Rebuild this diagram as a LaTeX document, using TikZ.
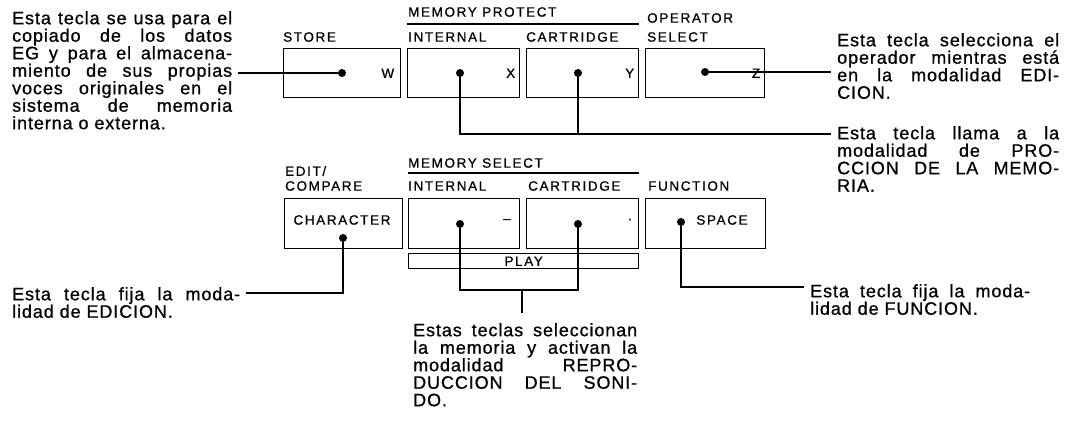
\documentclass[tikz,border=0pt]{standalone}
\usepackage{fontspec}
\setmainfont{Liberation Sans}[LetterSpace=5,FakeBold=0.8]
\newfontfamily\lblfont{Liberation Sans}[LetterSpace=12,FakeBold=0.8]

\begin{document}
\begin{tikzpicture}[x=1pt,y=-1pt,
  keybox/.style={draw,line width=1.4pt,anchor=north west,inner sep=0pt,minimum height=49pt},
  keydot/.style={circle,fill,inner sep=0pt,minimum size=8pt},
  leader/.style={line width=1.4pt},
  lbl/.style={font=\lblfont\fontsize{13.5}{15}\selectfont,anchor=west,inner sep=0pt},
  txt/.style={anchor=north west,text width=#1,align=justify,inner xsep=6pt,inner ysep=0pt,
    font=\fontsize{18}{17.5}\selectfont}]
  \useasboundingbox (0,0) rectangle (1069,422);

  \node[keybox,minimum width=117pt] (store) at (283,48) {};
  \node[keybox,minimum width=112pt] (pint) at (407,48) {};
  \node[keybox,minimum width=112pt] (pcart) at (526,48) {};
  \node[keybox,minimum width=119pt] (opsel) at (645,48) {};
  \node[lbl,anchor=east] (kw) at ([xshift=-7pt]store.east) {W};
  \node[lbl,anchor=east] (kx) at ([xshift=-5pt]pint.east) {X};
  \node[lbl,anchor=east] (ky) at ([xshift=-5pt]pcart.east) {Y};
  \node[lbl,anchor=east] (kz) at ([xshift=-5pt]opsel.east) {Z};
  \node[keydot] (dstore) at (342,73) {};
  \node[keydot] (dpint) at (460,73) {};
  \node[keydot] (dpcart) at (578,73) {};
  \node[keydot] (dopsel) at (705,72) {};

  \node[lbl] (lstore) at (283,37) {STORE};
  \node[lbl] (lprot) at (408,12) {MEMORY PROTECT};
  \draw[leader] ([yshift=24pt]pint.north west) -- ([yshift=24pt]pcart.north east);
  \node[lbl] (lpint) at (408,37) {INTERNAL};
  \node[lbl] (lpcart) at (526,37) {CARTRIDGE};
  \node[lbl] (lops1) at (647,18) {OPERATOR};
  \node[lbl] (lops2) at (647,37) {SELECT};

  \node[keybox,minimum width=118pt,minimum height=50pt] (chr) at (284,198) {};
  \node[keybox,minimum width=111pt,minimum height=50pt] (sint) at (408,198) {};
  \node[keybox,minimum width=112pt,minimum height=50pt] (scart) at (526,198) {};
  \node[keybox,minimum width=120pt,minimum height=50pt] (func) at (645,198) {};
  \node[keybox,minimum width=230pt,minimum height=15pt,font=\lblfont\fontsize{13.5}{15}\selectfont] (play) at (408,253) {PLAY};
  \node[lbl,anchor=center] (kchr) at (342,220) {CHARACTER};
  \node[lbl,anchor=center] (kminus) at (507,221) {–};
  \node[lbl,anchor=center] (kdot) at (630,221) {·};
  \node[lbl,anchor=center] (kspace) at (722,220) {SPACE};
  \node[keydot] (dchr) at (343,238) {};
  \node[keydot] (dsint) at (460,224) {};
  \node[keydot] (dscart) at (578,224) {};
  \node[keydot] (dfunc) at (681,222) {};

  \node[lbl] (ledit1) at (285,171) {EDIT/};
  \node[lbl] (ledit2) at (285,186) {COMPARE};
  \node[lbl] (lsel) at (408,163) {MEMORY SELECT};
  \draw[leader] ([yshift=25pt]sint.north west) -- ([yshift=25pt]scart.north east);
  \node[lbl] (lsint) at (408,186) {INTERNAL};
  \node[lbl] (lscart) at (528,186) {CARTRIDGE};
  \node[lbl] (lfunc) at (648,186) {FUNCTION};

  \node[txt=220pt] (tstore) at (6,11) {Esta tecla se usa para el\linebreak copiado de los datos\linebreak EG y para el almacena-\linebreak miento de sus propias\linebreak voces originales en el\linebreak sistema de memoria\linebreak interna o externa.};
  \node[txt=222pt] (tops) at (831,33) {Esta tecla selecciona el\linebreak operador mientras está\linebreak en la modalidad EDI-\linebreak CION.};
  \node[txt=222pt] (tprot) at (831,126) {Esta tecla llama a la\linebreak modalidad de PRO-\linebreak CCION DE LA MEMO-\linebreak RIA.};
  \node[txt=228pt] (tedit) at (6,287) {Esta tecla fija la moda-\linebreak lidad de EDICION.};
  \node[txt=220pt] (tfunc) at (804,284) {Esta tecla fija la moda-\linebreak lidad de FUNCION.};
  \node[txt=224pt] (tplay) at (407,323) {Estas teclas seleccionan\linebreak la memoria y activan la\linebreak modalidad REPRO-\linebreak DUCCION DEL SONI-\linebreak DO.};

  \draw[leader] (tstore.east |- dstore) -- (dstore);
  \coordinate (jprot) at (578,134);
  \draw[leader] (dpint) |- (jprot) -| (dpcart);
  \draw[leader] (jprot) -- (tprot.west |- jprot);
  \draw[leader] (dopsel) -- (tops.west |- dopsel);
  \coordinate (jedit) at (343,293);
  \draw[leader] (dchr) -- (jedit) -- (tedit.east |- jedit);
  \coordinate (jsel) at (578,290);
  \draw[leader] (dsint) |- (jsel) -| (dscart);
  \coordinate (jplay) at (522,290);
  \draw[leader,shorten >=10pt] (jplay) -- (jplay |- tplay.north);
  \coordinate (jfunc) at (681,287);
  \draw[leader] (dfunc) -- (jfunc) -- (tfunc.west |- jfunc);
\end{tikzpicture}
\end{document}
